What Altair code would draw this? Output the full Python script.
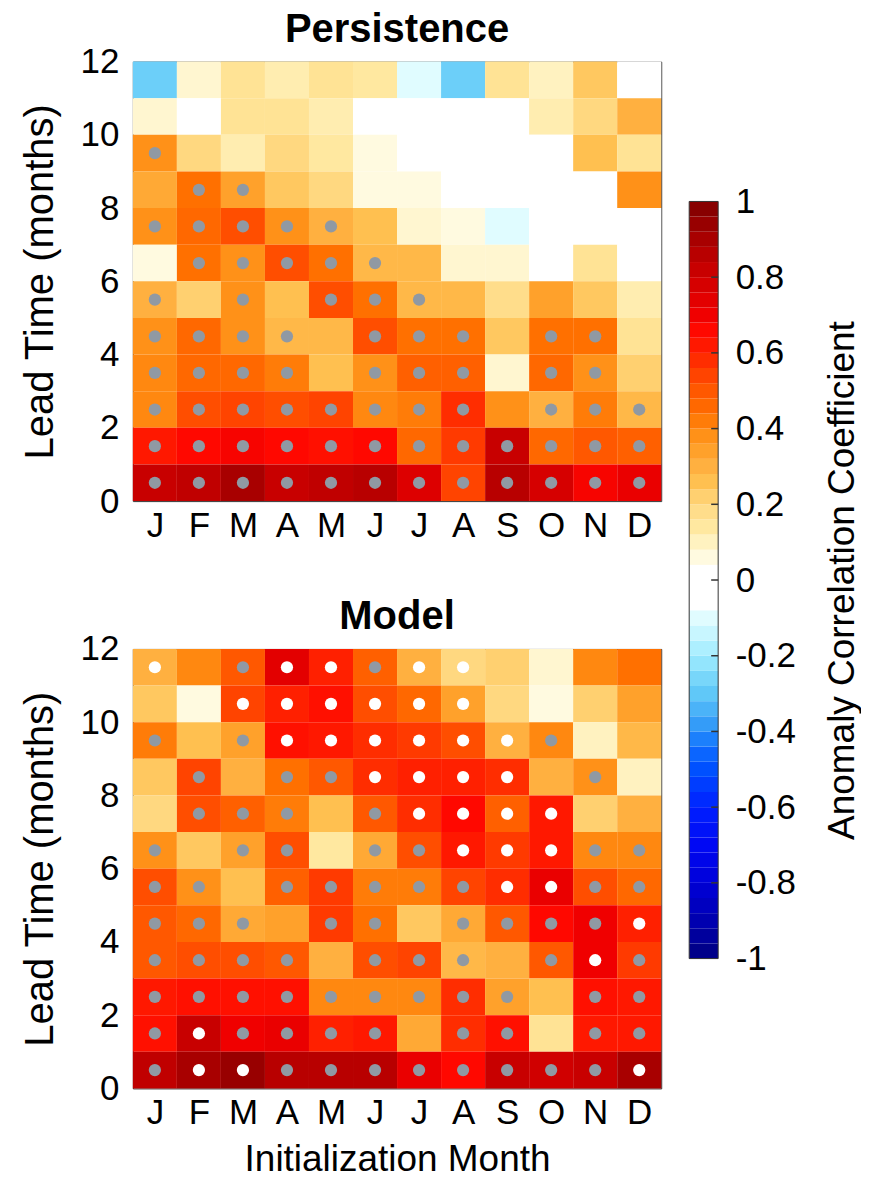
import altair as alt
import pandas as pd

# ---------------- data ----------------
months = ["J", "F", "M", "A", "M", "J", "J", "A", "S", "O", "N", "D"]
lead_ticks = [0, 2, 4, 6, 8, 10, 12]
cbar_ticks = [-1, -0.8, -0.6, -0.4, -0.2, 0, 0.2, 0.4, 0.6, 0.8, 1]

# colour map stops (value -> colour)
cmap_values = [-1.0, -0.9, -0.8, -0.7, -0.6, -0.5, -0.44, -0.4, -0.36, -0.3, -0.26,
               -0.2, -0.14, -0.1, -0.07, 0.03, 0.06, 0.1, 0.14, 0.2, 0.26, 0.3,
               0.36, 0.4, 0.44, 0.5, 0.56, 0.6, 0.66, 0.7, 0.8, 0.9, 1.0]
cmap_colors = ["#000080", "#0000b0", "#0000d8", "#0008f4", "#0020ff", "#0050ff",
               "#1070ff", "#2890f8", "#40a8f8", "#60c8f8", "#78d6fa", "#a0ecff",
               "#c8f6ff", "#e0fcff", "#ffffff", "#ffffff", "#fffae0", "#fff2c0",
               "#ffe8a0", "#ffd880", "#ffc050", "#ffb040", "#ff9a20", "#ff8810",
               "#ff7000", "#ff5800", "#ff3a00", "#ff2000", "#ff0800", "#f00000",
               "#d00000", "#a80000", "#800000"]

# rows from lead 11-12 (top) down to lead 0-1 (bottom); columns J..D
persistence_acc = [
    [-0.28, 0.08, 0.16, 0.12, 0.16, 0.14, -0.10, -0.28, 0.16, 0.10, 0.24, 0.00],
    [0.08, 0.00, 0.16, 0.16, 0.12, 0.00, 0.00, 0.00, 0.00, 0.12, 0.20, 0.30],
    [0.38, 0.20, 0.12, 0.20, 0.14, 0.06, 0.00, 0.00, 0.00, 0.00, 0.26, 0.16],
    [0.32, 0.44, 0.34, 0.24, 0.20, 0.06, 0.06, 0.00, 0.00, 0.00, 0.00, 0.38],
    [0.38, 0.46, 0.52, 0.38, 0.30, 0.26, 0.08, 0.06, -0.10, 0.00, 0.00, 0.00],
    [0.06, 0.44, 0.38, 0.52, 0.44, 0.28, 0.28, 0.08, 0.08, 0.00, 0.16, 0.02],
    [0.30, 0.22, 0.38, 0.26, 0.52, 0.44, 0.28, 0.28, 0.18, 0.34, 0.24, 0.12],
    [0.38, 0.46, 0.38, 0.28, 0.28, 0.52, 0.44, 0.44, 0.24, 0.44, 0.44, 0.16],
    [0.40, 0.46, 0.46, 0.42, 0.26, 0.38, 0.48, 0.48, 0.08, 0.46, 0.38, 0.22],
    [0.40, 0.52, 0.54, 0.52, 0.54, 0.40, 0.42, 0.58, 0.38, 0.30, 0.42, 0.28],
    [0.62, 0.66, 0.68, 0.66, 0.64, 0.66, 0.46, 0.56, 0.82, 0.46, 0.50, 0.48],
    [0.82, 0.84, 0.90, 0.82, 0.84, 0.86, 0.76, 0.54, 0.86, 0.78, 0.68, 0.72],
]
# 0 = not significant, 1 = significant (grey dot)
persistence_sig = [
    [0, 0, 0, 0, 0, 0, 0, 0, 0, 0, 0, 0],
    [0, 0, 0, 0, 0, 0, 0, 0, 0, 0, 0, 0],
    [1, 0, 0, 0, 0, 0, 0, 0, 0, 0, 0, 0],
    [0, 1, 1, 0, 0, 0, 0, 0, 0, 0, 0, 0],
    [1, 1, 1, 1, 1, 0, 0, 0, 0, 0, 0, 0],
    [0, 1, 1, 1, 1, 1, 0, 0, 0, 0, 0, 0],
    [1, 0, 1, 0, 1, 1, 1, 0, 0, 0, 0, 0],
    [1, 1, 1, 1, 0, 1, 1, 1, 0, 1, 1, 0],
    [1, 1, 1, 1, 0, 1, 1, 1, 0, 1, 1, 0],
    [1, 1, 1, 1, 1, 1, 1, 1, 0, 1, 1, 1],
    [1, 1, 1, 1, 1, 1, 1, 1, 1, 1, 1, 1],
    [1, 1, 1, 1, 1, 1, 1, 1, 1, 1, 1, 1],
]

model_acc = [
    [0.30, 0.40, 0.50, 0.74, 0.60, 0.48, 0.30, 0.20, 0.22, 0.08, 0.40, 0.44],
    [0.24, 0.06, 0.54, 0.60, 0.64, 0.52, 0.46, 0.34, 0.20, 0.06, 0.22, 0.34],
    [0.42, 0.26, 0.34, 0.64, 0.62, 0.58, 0.56, 0.52, 0.30, 0.40, 0.10, 0.28],
    [0.24, 0.54, 0.30, 0.44, 0.50, 0.58, 0.60, 0.60, 0.58, 0.30, 0.38, 0.10],
    [0.20, 0.52, 0.48, 0.42, 0.26, 0.50, 0.58, 0.66, 0.48, 0.62, 0.22, 0.30],
    [0.38, 0.24, 0.34, 0.52, 0.14, 0.32, 0.52, 0.62, 0.56, 0.62, 0.40, 0.40],
    [0.52, 0.38, 0.26, 0.48, 0.56, 0.42, 0.42, 0.54, 0.58, 0.72, 0.52, 0.46],
    [0.50, 0.46, 0.32, 0.34, 0.56, 0.44, 0.24, 0.32, 0.50, 0.66, 0.70, 0.60],
    [0.50, 0.52, 0.52, 0.50, 0.30, 0.52, 0.54, 0.28, 0.30, 0.50, 0.70, 0.56],
    [0.62, 0.64, 0.64, 0.64, 0.40, 0.40, 0.40, 0.58, 0.34, 0.26, 0.64, 0.62],
    [0.64, 0.82, 0.70, 0.72, 0.60, 0.62, 0.32, 0.58, 0.64, 0.16, 0.62, 0.62],
    [0.84, 0.90, 0.94, 0.86, 0.86, 0.86, 0.72, 0.66, 0.82, 0.80, 0.82, 0.90],
]
# 0 = none, 1 = significant (grey dot), 2 = better than persistence (white dot)
model_sig = [
    [2, 0, 1, 2, 2, 1, 2, 2, 0, 0, 0, 0],
    [0, 0, 2, 2, 2, 2, 2, 2, 0, 0, 0, 0],
    [1, 0, 1, 2, 2, 2, 2, 2, 2, 1, 0, 0],
    [0, 1, 0, 1, 1, 2, 2, 2, 2, 0, 1, 0],
    [0, 1, 1, 1, 0, 1, 2, 2, 2, 2, 0, 0],
    [1, 0, 1, 1, 0, 1, 1, 2, 2, 2, 1, 1],
    [1, 1, 0, 1, 1, 1, 1, 1, 2, 2, 1, 1],
    [1, 1, 1, 0, 1, 1, 0, 1, 1, 1, 1, 2],
    [1, 1, 1, 1, 0, 1, 1, 1, 0, 1, 2, 1],
    [1, 1, 1, 1, 1, 1, 1, 1, 1, 0, 1, 1],
    [1, 2, 1, 1, 1, 1, 0, 1, 1, 0, 1, 1],
    [1, 2, 2, 1, 1, 1, 1, 1, 1, 1, 1, 2],
]

# ---------------- styling ----------------
FONT = "Liberation Sans"
W, H = 529, 440
LBL = 35
TTL = 37
YTTL = 40
TITLE = 40
GREY_DOT = "#9099a3"

color_scale = alt.Scale(domain=cmap_values, range=cmap_colors, interpolate="rgb")
month_expr = "[" + ",".join("'%s'" % m for m in months) + "][floor(datum.value)]"


def cells(acc, sig):
    rows = []
    for r in range(12):
        hi = 12 - r
        for m in range(12):
            rows.append({"m0": m, "m1": m + 1, "mc": m + 0.5,
                         "l0": hi - 1, "l1": hi, "lc": hi - 0.5,
                         "acc": acc[r][m], "sig": sig[r][m]})
    return pd.DataFrame(rows)


def panel(acc, sig, title, xtitle):
    df = cells(acc, sig)
    xs = alt.Scale(domain=[0, 12], nice=False, zero=False)
    ys = alt.Scale(domain=[0, 12], nice=False, zero=False)
    xaxis = alt.Axis(values=[m + 0.5 for m in range(12)], labelExpr=month_expr,
                     ticks=False, tickSize=0, domain=False, grid=False,
                     labelFontSize=LBL, labelFont=FONT, labelColor="#000",
                     labelPadding=7, labelAngle=0, title=xtitle,
                     titleFont=FONT, titleFontSize=TTL, titleFontWeight="normal",
                     titleColor="#000", titlePadding=11)
    yaxis = alt.Axis(values=lead_ticks, ticks=False, tickSize=0, domain=False, grid=False,
                     labelFontSize=LBL, labelFont=FONT, labelColor="#000", labelPadding=14,
                     title="Lead Time (months)", titleFont=FONT, titleFontSize=YTTL,
                     titleFontWeight="normal", titleColor="#000", titlePadding=20)
    base = alt.Chart(df)
    rect = base.mark_rect().encode(
        x=alt.X("m0:Q", scale=xs, axis=xaxis),
        x2="m1:Q",
        y=alt.Y("l0:Q", scale=ys, axis=yaxis),
        y2="l1:Q",
        color=alt.Color("acc:Q", scale=color_scale, legend=None),
    )
    dots = base.mark_circle(size=150, opacity=1).encode(
        x=alt.X("mc:Q", scale=xs),
        y=alt.Y("lc:Q", scale=ys),
        color=alt.condition("datum.sig == 2", alt.value("#ffffff"), alt.value(GREY_DOT)),
    ).transform_filter("datum.sig > 0")
    return alt.layer(rect, dots).properties(
        width=W, height=H,
        title=alt.TitleParams(title, font=FONT, fontSize=TITLE, fontWeight="bold",
                              color="#000", offset=-5),
    )


top = panel(persistence_acc, persistence_sig, "Persistence", "")
bottom = panel(model_acc, model_sig, "Model", "Initialization Month")

# colour bar: plot area starts level with the top panel; bar spans -1..1
CB_H = 898
cb_top = 1 + 140 / 379
n_bands = 50
bands = pd.DataFrame({
    "lo": [-1 + 2 * i / n_bands for i in range(n_bands)],
    "hi": [-1 + 2 * (i + 1) / n_bands for i in range(n_bands)],
    "mid": [-1 + 2 * (i + 0.5) / n_bands for i in range(n_bands)],
})
cb_scale = alt.Scale(domain=[-1, cb_top], nice=False, zero=False)
cb_axis = alt.Axis(values=cbar_ticks, labelExpr="'' + datum.value", orient="right",
                   ticks=False, tickSize=0, domain=False, grid=False,
                   labelFontSize=LBL, labelFont=FONT, labelColor="#000", labelPadding=17,
                   title="Anomaly Correlation Coefficient", titleFont=FONT,
                   titleFontSize=TTL, titleFontWeight="normal", titleColor="#000",
                   titleAngle=270, titleBaseline="middle", titleAlign="center",
                   titleX=124, titleY=519)
cb_rect = alt.Chart(bands).mark_rect().encode(
    y=alt.Y("lo:Q", scale=cb_scale, axis=cb_axis),
    y2="hi:Q",
    x=alt.value(0), x2=alt.value(29),
    color=alt.Color("mid:Q", scale=color_scale, legend=None),
)
cb_frame = alt.Chart(pd.DataFrame({"lo": [-1], "hi": [1]})).mark_rect(
    fill="transparent", stroke="#333333", strokeWidth=1
).encode(y=alt.Y("lo:Q", scale=cb_scale), y2="hi:Q", x=alt.value(0), x2=alt.value(29))
cb_ticks = alt.Chart(pd.DataFrame({"v": cbar_ticks[1:-1]})).mark_rule(
    color="#333333", strokeWidth=1.5
).encode(y=alt.Y("v:Q", scale=cb_scale), x=alt.value(22), x2=alt.value(29))
colorbar = alt.layer(cb_rect, cb_frame, cb_ticks).properties(
    width=29, height=CB_H, view=alt.ViewConfig(stroke="transparent")
)

left = alt.vconcat(top, bottom, spacing=52)
chart = alt.hconcat(left, colorbar, spacing=26).properties(
    padding={"left": 11, "top": 0, "right": 0, "bottom": 0}
).configure_view(stroke="#333333", strokeWidth=1)

chart.save("out.html", embed_options={"renderer": "svg", "actions": False})
